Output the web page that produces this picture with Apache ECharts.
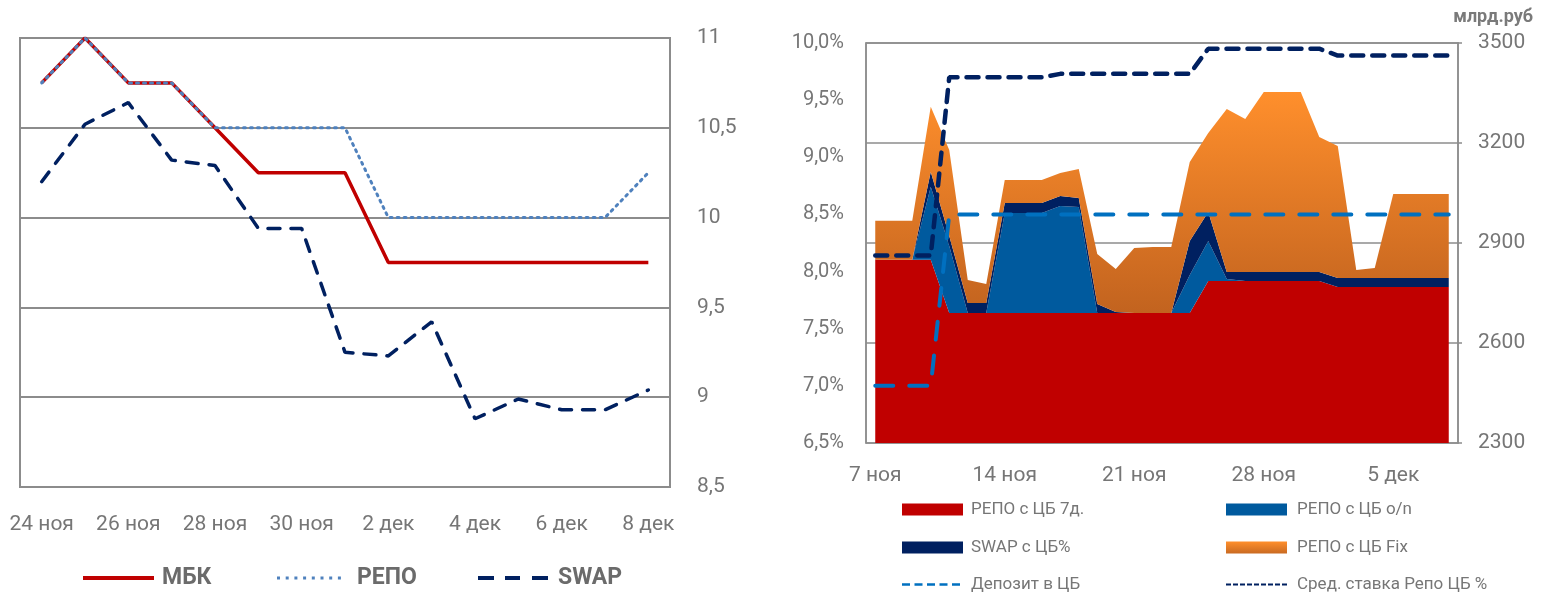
<!DOCTYPE html>
<html><head><meta charset="utf-8">
<script src="https://cdn.jsdelivr.net/npm/echarts@6/dist/echarts.min.js"></script>
<style>html,body{margin:0;padding:0;background:#fff}#c{width:1542px;height:594px}</style>
</head><body><div id="c"></div>
<script>
// ---------- Left chart data ----------
const leftDates = ['24 ноя','25 ноя','26 ноя','27 ноя','28 ноя','29 ноя','30 ноя','1 дек','2 дек','3 дек','4 дек','5 дек','6 дек','7 дек','8 дек'];
const mbk  = [10.75,11,10.75,10.75,10.5,10.25,10.25,10.25,9.75,9.75,9.75,9.75,9.75,9.75,9.75];
const repo = [10.75,11,10.75,10.75,10.5,10.5,10.5,10.5,10,10,10,10,10,10,10.25];
const swap = [10.2,10.52,10.64,10.32,10.29,9.94,9.94,9.25,9.23,9.42,8.88,8.99,8.93,8.93,9.04];
const leftAxisRange = {min: 8.5, max: 11, interval: 0.5};

// ---------- Right chart data ----------
const rightDates = ['7 ноя','8 ноя','9 ноя','10 ноя','11 ноя','12 ноя','13 ноя','14 ноя','15 ноя','16 ноя',
  '17 ноя','18 ноя','19 ноя','20 ноя','21 ноя','22 ноя','23 ноя','24 ноя','25 ноя','26 ноя','27 ноя',
  '28 ноя','29 ноя','30 ноя','1 дек','2 дек','3 дек','4 дек','5 дек','6 дек','7 дек','8 дек'];
const repo7d  = [2850,2850,2850,2850,2690,2690,2690,2690,2690,2690,2690,2690,2690,2690,2690,2690,2690,2690,2786,2786,2786,2786,2786,2786,2786,2768,2768,2768,2768,2768,2768,2768];
const repoON  = [0,0,0,219,201,0,0,300,300,300,321,318,0,0,0,0,0,114,120,6,0,0,0,0,0,0,0,0,0,0,0,0];
const swapCB  = [0,0,0,45,30,30,30,30,30,30,30,27,27,3,0,0,0,102,87,21,27,27,27,27,27,27,27,27,27,27,27,27];
const repoFix = [117,117,117,195,258,69,57,69,69,69,69,87,150,129,195,198,198,237,237,489,459,540,540,540,405,396,24,30,252,252,252,252];
const deposit = [7.0,7.0,7.0,7.0,8.5,8.5,8.5,8.5,8.5,8.5,8.5,8.5,8.5,8.5,8.5,8.5,8.5,8.5,8.5,8.5,8.5,8.5,8.5,8.5,8.5,8.5,8.5,8.5,8.5,8.5,8.5,8.5];
const avgRepo = [8.14,8.14,8.14,8.14,9.70,9.70,9.70,9.70,9.70,9.70,9.73,9.73,9.73,9.73,9.73,9.73,9.73,9.73,9.95,9.95,9.95,9.95,9.95,9.95,9.95,9.89,9.89,9.89,9.89,9.89,9.89,9.89];
const pctAxisRange = {min: 6.5, max: 10, interval: 0.5};
const volAxisRange = {min: 2300, max: 3500, interval: 300};

const FONT = 'Roboto';
const TXT = '#767676';
const GRIDC = '#8c8c8c';

const orangeGrad = new echarts.graphic.LinearGradient(0, 0, 0, 1, [
  {offset: 0, color: '#FF8F2C'}, {offset: 1, color: '#C2631F'}]);
const orangeGradLeg = new echarts.graphic.LinearGradient(0, 0, 0, 1, [
  {offset: 0, color: '#FF8F2C'}, {offset: 1, color: '#C96A22'}]);

// legend icon paths (pure glyph shapes)
const ICON_DOTS = 'path://M0,0h3v3h-3zM8.7,0h3v3h-3zM17.4,0h3v3h-3zM26.1,0h3v3h-3zM34.8,0h3v3h-3zM43.5,0h3v3h-3zM52.2,0h3v3h-3zM60.9,0h3v3h-3z';
const ICON_SWAP = 'path://M0,0h16v4h-16zM27,0h15v4h-15zM54,0h16v4h-16z';
const ICON_DEP  = 'path://M0,0h8v2.5h-8zM12.5,0h8v2.5h-8zM25,0h8v2.5h-8zM37.5,0h8v2.5h-8zM50,0h8v2.5h-8z';
const ICON_AVG  = 'path://M0,0h5v2h-5zM7,0h5v2h-5zM14,0h5v2h-5zM21,0h5v2h-5zM28,0h5v2h-5zM35,0h5v2h-5zM42,0h5v2h-5zM49,0h5v2h-5zM56,0h5v2h-5z';

const chart = echarts.init(document.getElementById('c'), null, {renderer: 'canvas'});

function leg(name, left, cy, icon, w, h, color, opts) {
  const o = Object.assign({fontSize: 17, bold: false, pad: 3, lh: 16}, opts || {});
  return {
    left: left, top: cy - o.lh / 2, itemWidth: w, itemHeight: h, selectedMode: false,
    padding: 0, itemGap: 0,
    textStyle: {fontFamily: FONT, fontSize: o.fontSize, fontWeight: o.bold ? 'bold' : 'normal',
      color: o.bold ? '#6b6b6b' : TXT, lineHeight: o.lh, padding: [0, 0, 0, o.pad]},
    data: [{name: name, icon: icon, itemStyle: {color: color, borderWidth: 0}}]
  };
}

const areaSeries = (name, data, color) => ({
  name, type: 'line', xAxisIndex: 1, yAxisIndex: 2, stack: 'vol', data,
  symbol: 'none', lineStyle: {width: 0, color: color}, itemStyle: {color: color},
  areaStyle: {color: color, opacity: 1}, emphasis: {disabled: true}, z: 2
});

const option = {
  animation: false,
  textStyle: {fontFamily: FONT},
  title: {text: 'млрд.руб', right: 4, top: 3, textStyle: {fontFamily: FONT, fontSize: 18, fontWeight: 'bold', color: '#7a7a7a'}},
  grid: [
    {left: 20, right: 872, top: 38, bottom: 107, containLabel: false, outerBoundsMode: 'none',
     show: true, borderColor: GRIDC, borderWidth: 2},
    {left: 866, right: 84, top: 43, bottom: 151, containLabel: false, outerBoundsMode: 'none',
     show: true, borderColor: GRIDC, borderWidth: 1.5}
  ],
  xAxis: [
    {type: 'category', gridIndex: 0, data: leftDates, boundaryGap: true,
     axisLine: {show: false}, axisTick: {show: false},
     axisLabel: {interval: 1, margin: 27, fontSize: 21, color: TXT, fontFamily: FONT}},
    {type: 'category', gridIndex: 1, data: rightDates, boundaryGap: true,
     axisLine: {show: false}, axisTick: {show: false},
     axisLabel: {interval: 6, margin: 22, fontSize: 21, color: TXT, fontFamily: FONT}}
  ],
  yAxis: [
    {type: 'value', gridIndex: 0, position: 'right', min: leftAxisRange.min, max: leftAxisRange.max, interval: leftAxisRange.interval,
     axisLine: {show: false}, axisTick: {show: false},
     splitLine: {show: true, lineStyle: {color: GRIDC, width: 2}},
     axisLabel: {margin: 27, fontSize: 21, color: TXT, fontFamily: FONT,
       formatter: v => String(v).replace('.', ',')}},
    {type: 'value', gridIndex: 1, position: 'left', min: pctAxisRange.min, max: pctAxisRange.max, interval: pctAxisRange.interval,
     axisLine: {show: true, lineStyle: {color: GRIDC, width: 1.5}}, axisTick: {show: false},
     splitLine: {show: false},
     axisLabel: {margin: 22, fontSize: 20, color: TXT, fontFamily: FONT,
       formatter: v => v.toFixed(1).replace('.', ',') + '%'}},
    {type: 'value', gridIndex: 1, position: 'right', min: volAxisRange.min, max: volAxisRange.max, interval: volAxisRange.interval,
     axisLine: {show: true, lineStyle: {color: GRIDC, width: 1.5}},
     axisTick: {show: true, length: 4, lineStyle: {color: GRIDC, width: 1.5}},
     splitLine: {show: true, lineStyle: {color: GRIDC, width: 1.5}},
     axisLabel: {margin: 20, fontSize: 21, color: TXT, fontFamily: FONT, formatter: v => String(v)}}
  ],
  legend: [
    leg('МБК', 83, 578, 'rect', 71, 4, '#C00000', {fontSize: 23, bold: true, pad: 3, lh: 24}),
    leg('РЕПО', 277, 578, ICON_DOTS, 64, 3, '#4F81BD', {fontSize: 23, bold: true, pad: 11, lh: 24}),
    leg('SWAP', 478, 578, ICON_SWAP, 70, 4, '#002060', {fontSize: 23, bold: true, pad: 5, lh: 24}),
    leg('РЕПО с ЦБ 7д.', 902, 509, 'rect', 61, 12, '#C00000', {pad: 3}),
    leg('SWAP с ЦБ%', 902, 547, 'rect', 61, 12, '#002060', {pad: 3}),
    leg('Депозит в ЦБ', 902, 584, ICON_DEP, 58, 2.5, '#0070C0', {pad: 6}),
    leg('РЕПО с ЦБ o/n', 1226, 509, 'rect', 61, 12, '#005A9E', {pad: 5}),
    leg('РЕПО с ЦБ Fix', 1226, 547, 'rect', 61, 12, orangeGradLeg, {pad: 5}),
    leg('Сред. ставка Репо ЦБ %', 1226, 584, ICON_AVG, 61, 2, '#002060', {pad: 5})
  ],
  series: [
    {name: 'МБК', type: 'line', xAxisIndex: 0, yAxisIndex: 0, data: mbk, symbol: 'none',
     lineStyle: {color: '#C00000', width: 3.5}, itemStyle: {color: '#C00000'}, z: 3},
    {name: 'РЕПО', type: 'line', xAxisIndex: 0, yAxisIndex: 0, data: repo, symbol: 'none',
     lineStyle: {color: '#4F81BD', width: 3, type: [2, 5], cap: 'round'}, itemStyle: {color: '#4F81BD'}, z: 4},
    {name: 'SWAP', type: 'line', xAxisIndex: 0, yAxisIndex: 0, data: swap, symbol: 'none',
     lineStyle: {color: '#002060', width: 3.5, type: [12, 11], cap: 'round'}, itemStyle: {color: '#002060'}, z: 3},

    areaSeries('РЕПО с ЦБ 7д.', repo7d, '#C00000'),
    areaSeries('РЕПО с ЦБ o/n', repoON, '#005A9E'),
    areaSeries('SWAP с ЦБ%', swapCB, '#002060'),
    Object.assign(areaSeries('РЕПО с ЦБ Fix', repoFix, '#E8802A'), {areaStyle: {color: orangeGrad, opacity: 1}}),

    {name: 'Депозит в ЦБ', type: 'line', xAxisIndex: 1, yAxisIndex: 1, data: deposit, symbol: 'none',
     lineStyle: {color: '#0070C0', width: 4, type: [18, 16], cap: 'round'}, itemStyle: {color: '#0070C0'}, z: 5},
    {name: 'Сред. ставка Репо ЦБ %', type: 'line', xAxisIndex: 1, yAxisIndex: 1, data: avgRepo, symbol: 'none',
     lineStyle: {color: '#002060', width: 4.5, type: [12, 9], cap: 'round'}, itemStyle: {color: '#002060'}, z: 5}
  ]
};
chart.setOption(option);
</script></body></html>
